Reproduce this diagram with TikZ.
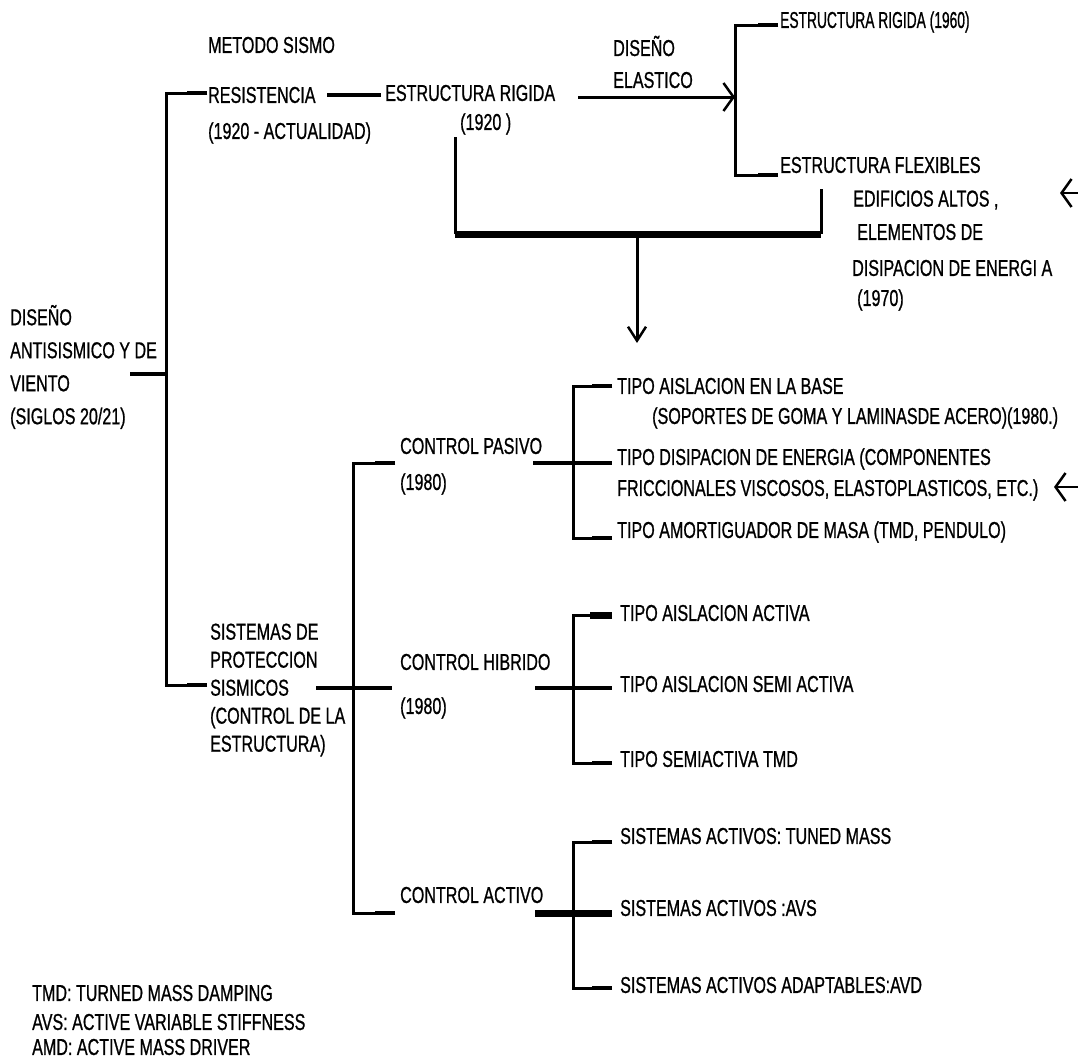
\documentclass[tikz,border=0pt]{standalone}
\usepackage{fontspec}
\setmainfont{Liberation Sans}[FakeStretch=0.70,FakeBold=0.8]
\newfontfamily\narrowfont{Liberation Sans}[FakeStretch=0.60,FakeBold=0.8]
\usetikzlibrary{arrows.meta}
\begin{document}
\begin{tikzpicture}[x=1pt,y=-1pt,
  txt/.style={anchor=west,inner sep=0pt,align=left,font=\fontsize{23}{28}\selectfont},
  ln/.style={line width=3pt},
  stub/.style={line width=4pt},
  thk/.style={line width=7pt},
  barb/.style={-{Straight Barb[length=10pt,width=28pt,line width=2.5pt]}},
  dbarb/.style={-{Straight Barb[length=14pt,width=18pt,line width=2.5pt]}}]
\useasboundingbox (0,0) rectangle (1078,1061);

% ---------- texts ----------
\node[txt,font=\fontsize{23}{33}\selectfont] (root) at (10,367) {DISEÑO\\ANTISISMICO Y DE\\VIENTO\\(SIGLOS 20/21)};
\node[txt] (metodo) at (208,45) {METODO SISMO};
\node[txt] (resist) at (208,95) {RESISTENCIA};
\node[txt] (actual) at (208,133) {(1920 - ACTUALIDAD)};
\node[txt] (erig) at (385,93) {ESTRUCTURA RIGIDA};
\node[txt] (y1920) at (460,124) {(1920 )};
\node[txt,font=\fontsize{23}{32}\selectfont] (elast) at (613,62) {DISEÑO\\ELASTICO};
\node[txt,font=\narrowfont\fontsize{23}{28}\selectfont] (er60) at (780,22) {ESTRUCTURA RIGIDA (1960)};
\node[txt] (flex) at (780,165) {ESTRUCTURA FLEXIBLES};
\node[txt] (edif) at (853,200) {EDIFICIOS ALTOS ,};
\node[txt] (elem) at (857,232) {ELEMENTOS DE};
\node[txt] (disip) at (852,268) {DISIPACION DE ENERGI A};
\node[txt] (y1970) at (857,300) {(1970)};

\node[txt] (sist) at (210,690) {SISTEMAS DE\\PROTECCION\\SISMICOS\\(CONTROL DE LA\\ESTRUCTURA)};
\node[txt] (pasivo) at (400,446) {CONTROL PASIVO};
\node[txt] (pasy) at (400,484) {(1980)};
\node[txt] (hibr) at (400,662) {CONTROL HIBRIDO};
\node[txt] (hiby) at (400,708) {(1980)};
\node[txt] (activo) at (400,895) {CONTROL ACTIVO};

\node[txt] (p1) at (617,386) {TIPO AISLACION EN LA BASE};
\node[txt] (p1b) at (652,418) {(SOPORTES DE GOMA Y LAMINASDE ACERO)(1980.)};
\node[txt] (p2) at (617,459) {TIPO DISIPACION DE ENERGIA (COMPONENTES};
\node[txt] (p2b) at (617,490) {FRICCIONALES VISCOSOS, ELASTOPLASTICOS, ETC.)};
\node[txt] (p3) at (617,532) {TIPO AMORTIGUADOR DE MASA (TMD, PENDULO)};

\node[txt] (h1) at (620,613) {TIPO AISLACION ACTIVA};
\node[txt] (h2) at (620,684) {TIPO AISLACION SEMI ACTIVA};
\node[txt] (h3) at (620,759) {TIPO SEMIACTIVA TMD};

\node[txt] (a1) at (620,836) {SISTEMAS ACTIVOS: TUNED MASS};
\node[txt] (a2) at (620,908) {SISTEMAS ACTIVOS :AVS};
\node[txt] (a3) at (620,985) {SISTEMAS ACTIVOS ADAPTABLES:AVD};

\node[txt] (leg1) at (32,993) {TMD: TURNED MASS DAMPING};
\node[txt] (leg2) at (32,1022) {AVS: ACTIVE VARIABLE STIFFNESS};
\node[txt] (leg3) at (32,1047) {AMD: ACTIVE MASS DRIVER};

% ---------- coordinates ----------
\coordinate (rootS) at (130,374);
\coordinate (mainX) at (166,374);
\coordinate (mainT) at (207,93);
\coordinate (mainB) at (207,685);
\coordinate (resE) at (327,95);
\coordinate (erW) at (381,95);
\coordinate (erE) at (578,97);
\coordinate (brX) at (735,97);
\coordinate (brT) at (778,25);
\coordinate (brB) at (778,175);
\coordinate (uL) at (455,137);
\coordinate (uR) at (821,189);
\coordinate (uY) at (637,234);
\coordinate (uA) at (637,343);
\coordinate (arr1s) at (1080,193);
\coordinate (arr1e) at (1060,193);
\coordinate (arr2s) at (1080,487);
\coordinate (arr2e) at (1054,487);

\coordinate (sisS) at (316,688);
\coordinate (sisE) at (392,688);
\coordinate (cT) at (395,463);
\coordinate (cB) at (395,913);
\coordinate (cX) at (353,688);

\coordinate (pS) at (533,463);
\coordinate (pE) at (612,463);
\coordinate (pX) at (573,463);
\coordinate (pT) at (612,386);
\coordinate (pB) at (612,538);

\coordinate (hS) at (535,688);
\coordinate (hE) at (612,688);
\coordinate (hX) at (573,688);
\coordinate (hT) at (612,615);
\coordinate (hB) at (612,763);

\coordinate (aS) at (535,913);
\coordinate (aE) at (612,913);
\coordinate (aX) at (573,913);
\coordinate (aT) at (612,842);
\coordinate (aB) at (612,988);

% ---------- connectors ----------
\draw[stub] (rootS) -- (mainX);
\draw[ln] (mainT) -| (mainX) |- (mainB);
\draw[stub] (mainT) -- ++(-20,0);
\draw[stub] (mainB) -- ++(-20,0);
\draw[stub] (resE) -- (erW);
\draw[ln,barb] (erE) -- (brX);
\draw[ln] (brT) -| (brX) |- (brB);
\draw[stub] (brT) -- ++(-20,0);
\draw[stub] (brB) -- ++(-20,0);

\draw[ln] (uL) -- (uL |- uY);
\draw[ln] (uR) -- (uR |- uY);
\draw[thk] (uL |- uY) -- (uR |- uY);
\draw[ln,dbarb] (uY) -- (uA);

\draw[line width=2.5pt,barb] (arr1s) -- (arr1e);
\draw[line width=2.5pt,barb] (arr2s) -- (arr2e);

\draw[stub] (sisS) -- (sisE);
\draw[ln] (cT) -| (cX) |- (cB);
\draw[stub] (cT) -- ++(-20,0);
\draw[stub] (cB) -- ++(-20,0);

\draw[stub] (pS) -- (pE);
\draw[ln] (pT) -| (pX) |- (pB);
\draw[stub] (pT) -- ++(-20,0);
\draw[stub] (pB) -- ++(-20,0);

\draw[stub] (hS) -- (hE);
\draw[ln] (hT) -| (hX) |- (hB);
\draw[thk] (hT) -- ++(-22,0);
\draw[stub] (hB) -- ++(-20,0);

\draw[thk] (aS) -- (aE);
\draw[ln] (aT) -| (aX) |- (aB);
\draw[stub] (aT) -- ++(-20,0);
\draw[stub] (aB) -- ++(-20,0);
\end{tikzpicture}
\end{document}
